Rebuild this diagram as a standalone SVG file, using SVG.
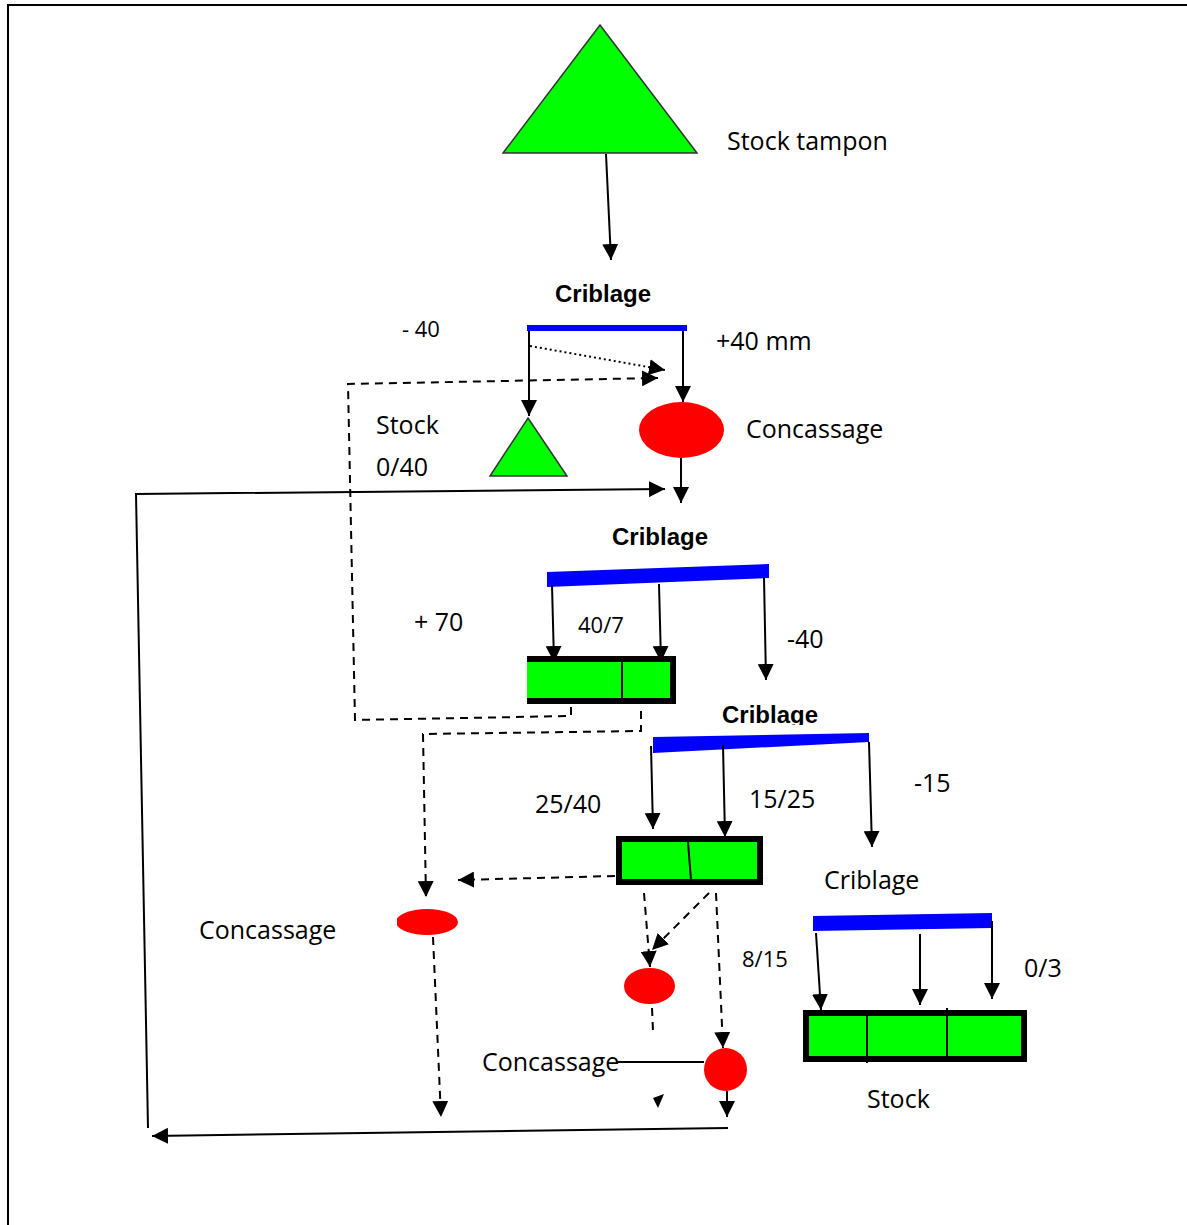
<svg xmlns="http://www.w3.org/2000/svg" width="1187" height="1225" viewBox="0 0 1187 1225">
  <style>
    .lbl { font-family: "Open Sans", "Liberation Sans", sans-serif; font-size: 25px; fill: #000; }
    .sm { font-size: 22px; }
    .head { font-family: "Liberation Sans", Arial, sans-serif; font-size: 24px; font-weight: bold; fill: #000; }
    .screen { fill: #0000ff; }
    .pile { fill: #00ff00; stroke: #333; stroke-width: 1.5; }
    .crusher { fill: #ff0000; }
    .bin { fill: #00ff00; }
    .binEdge { fill: none; stroke: #000; stroke-width: 6; }
    .div { stroke: #000; stroke-width: 2; }
    .flow { fill: none; stroke: #000; stroke-width: 2; }
    .dash { fill: none; stroke: #000; stroke-width: 2; stroke-dasharray: 8 6; }
    .dot { fill: none; stroke: #000; stroke-width: 2; stroke-dasharray: 2 3; }
  </style>
  <defs>
    <marker id="arr" viewBox="0 0 16 16" refX="16" refY="8" markerWidth="16" markerHeight="16" markerUnits="userSpaceOnUse" orient="auto">
      <path d="M0,0 L16,8 L0,16 z" fill="#000"/>
    </marker>
    <clipPath id="cutHead">
      <rect x="700" y="690" width="160" height="35"/>
    </clipPath>
    <clipPath id="cutEll">
      <rect x="397" y="900" width="80" height="50"/>
    </clipPath>
  </defs>

  <rect width="1187" height="1225" fill="#fff"/>
  <!-- frame -->
  <path d="M8,1225 V5 H1187" fill="none" stroke="#000" stroke-width="2"/>

  <!-- buffer stockpile -->
  <g id="stock-tampon">
    <polygon class="pile" points="600,25 697,153 503,153"/>
    <text class="lbl" x="727" y="150">Stock tampon</text>
  </g>

  <!-- primary screen -->
  <g id="criblage-1">
    <text class="head" x="555" y="302">Criblage</text>
    <rect class="screen" x="527" y="325" width="160" height="6"/>
    <text class="lbl sm" x="402" y="337">- 40</text>
    <text class="lbl" x="716" y="350">+40 mm</text>
  </g>

  <g id="stock-0-40">
    <polygon class="pile" points="528,418 567,476 490,476"/>
    <text class="lbl" x="376" y="434">Stock</text>
    <text class="lbl" x="376" y="476">0/40</text>
  </g>

  <g id="concassage-1">
    <ellipse class="crusher" cx="681.5" cy="430" rx="42.5" ry="28"/>
    <text class="lbl" x="746" y="438">Concassage</text>
  </g>

  <!-- secondary screen -->
  <g id="criblage-2">
    <text class="head" x="612" y="545">Criblage</text>
    <polygon class="screen" points="547,572 769,564 769,578 547,587"/>
    <text class="lbl" x="414" y="631">+ 70</text>
    <text class="lbl sm" x="578" y="633">40/7</text>
    <text class="lbl" x="787" y="648">-40</text>
  </g>

  <g id="bin-40-7">
    <rect class="bin" x="527" y="659" width="146" height="42"/>
    <path class="binEdge" d="M527,659 H673 V701 H527" stroke-width="5"/>
    <line class="div" x1="622" y1="660" x2="622" y2="700"/>
  </g>

  <!-- tertiary screen -->
  <g id="criblage-3">
    <text class="head" x="722" y="723" clip-path="url(#cutHead)">Criblage</text>
    <polygon class="screen" points="653,737 869,733 869,742 653,753"/>
    <text class="lbl" x="535" y="813">25/40</text>
    <text class="lbl" x="749" y="808">15/25</text>
    <text class="lbl" x="914" y="792">-15</text>
  </g>

  <g id="bin-25-15">
    <rect class="bin" x="619" y="839" width="141" height="43"/>
    <rect class="binEdge" x="619" y="839" width="141" height="43"/>
    <line class="div" x1="688" y1="842" x2="691" y2="880"/>
  </g>

  <g id="concassage-2">
    <ellipse class="crusher" cx="427" cy="922" rx="31" ry="13" clip-path="url(#cutEll)"/>
    <text class="lbl" x="199" y="939">Concassage</text>
  </g>

  <g id="concassage-3">
    <ellipse class="crusher" cx="649.5" cy="986" rx="25.5" ry="18"/>
  </g>

  <g id="concassage-4">
    <circle class="crusher" cx="725.5" cy="1069.5" r="21.5"/>
    <text class="lbl" x="482" y="1071">Concassage</text>
    <text class="lbl sm" x="742" y="967">8/15</text>
  </g>

  <!-- fine screen and sand bins -->
  <g id="criblage-4">
    <text class="lbl" x="824" y="889">Criblage</text>
    <polygon class="screen" points="813,916 992,913 992,928 813,931"/>
    <text class="lbl" x="1024" y="977">0/3</text>
  </g>

  <g id="stock-final">
    <rect class="bin" x="806" y="1013" width="218" height="46"/>
    <rect class="binEdge" x="806" y="1013" width="218" height="46"/>
    <line class="div" x1="867" y1="1015" x2="867" y2="1063"/>
    <line class="div" x1="947" y1="1008" x2="947" y2="1057"/>
    <text class="lbl" x="867" y="1108">Stock</text>
  </g>

  <!-- connectors -->
  <g id="connectors">
    <line class="flow" x1="606" y1="154" x2="611" y2="260" marker-end="url(#arr)"/>
    <line class="flow" x1="529" y1="331" x2="529" y2="416" marker-end="url(#arr)"/>
    <line class="flow" x1="683" y1="331" x2="683" y2="402" marker-end="url(#arr)"/>
    <line class="dot" x1="530" y1="346" x2="665" y2="370" marker-end="url(#arr)"/>
    <line class="flow" x1="681" y1="458" x2="681" y2="503" marker-end="url(#arr)"/>

    <!-- recycle of oversize back to primary crusher -->
    <path class="dash" d="M571,707 V716 L355,720 L348,384 L658,378" marker-end="url(#arr)"/>
    <!-- 40/70 towards crusher -->
    <path class="dash" d="M641,711 V731 L423,734 L426,897" marker-end="url(#arr)"/>

    <!-- return loop -->
    <polyline class="flow" points="148,1128 136,494 665,489" marker-end="url(#arr)"/>
    <line class="flow" x1="728" y1="1128" x2="152" y2="1136" marker-end="url(#arr)"/>

    <line class="flow" x1="552" y1="585" x2="554" y2="662" marker-end="url(#arr)"/>
    <line class="flow" x1="659" y1="584" x2="661" y2="662" marker-end="url(#arr)"/>
    <line class="flow" x1="764" y1="578" x2="766" y2="680" marker-end="url(#arr)"/>

    <line class="flow" x1="651" y1="746" x2="653" y2="829" marker-end="url(#arr)"/>
    <line class="flow" x1="723" y1="745" x2="725" y2="837" marker-end="url(#arr)"/>
    <line class="flow" x1="869" y1="742" x2="872" y2="847" marker-end="url(#arr)"/>

    <line class="dash" x1="615" y1="876" x2="458" y2="880" marker-end="url(#arr)"/>
    <line class="dash" x1="433" y1="937" x2="441" y2="1117" marker-end="url(#arr)"/>
    <line class="dash" x1="644" y1="893" x2="650" y2="967" marker-end="url(#arr)"/>
    <line class="dash" x1="709" y1="893" x2="652" y2="950" marker-end="url(#arr)"/>
    <line class="dash" x1="716" y1="893" x2="723" y2="1048" marker-end="url(#arr)"/>
    <line class="dash" x1="652" y1="1008" x2="653" y2="1031"/>
    <polygon points="653,1098 664,1094 658,1108" fill="#000"/>
    <line class="flow" x1="617" y1="1062" x2="704" y2="1062"/>
    <line class="flow" x1="727" y1="1091" x2="727" y2="1117" marker-end="url(#arr)"/>

    <line class="flow" x1="816" y1="933" x2="821" y2="1010" marker-end="url(#arr)"/>
    <line class="flow" x1="920" y1="934" x2="920" y2="1005" marker-end="url(#arr)"/>
    <line class="flow" x1="992" y1="921" x2="992" y2="999" marker-end="url(#arr)"/>
  </g>
</svg>
